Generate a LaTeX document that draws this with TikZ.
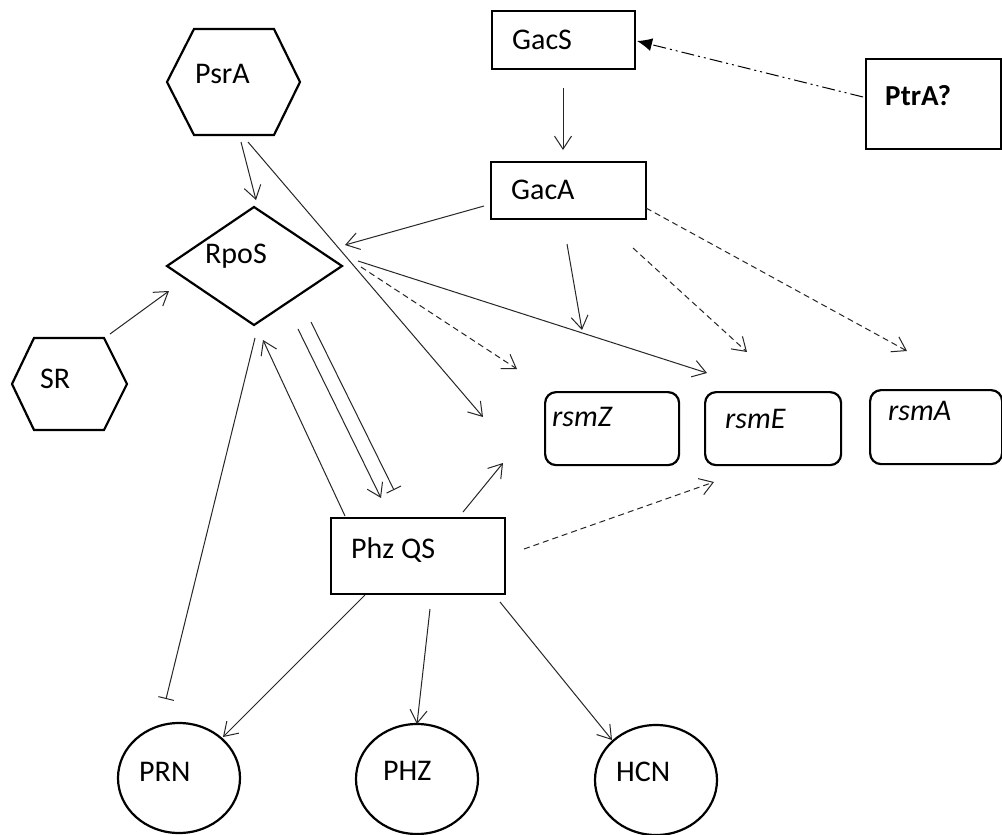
\documentclass[tikz,border=0pt]{standalone}
\usepackage{fontspec}
\setmainfont{Carlito}
\usetikzlibrary{arrows.meta,shapes.geometric}
\begin{document}
\begin{tikzpicture}[x=1pt,y=-1pt,
  shapeline/.style={draw=black,line width=2.2pt},
  boxnode/.style={shapeline,rectangle,inner sep=0pt,anchor=north west},
  rsmbox/.style={shapeline,rectangle,rounded corners=11pt,inner sep=0pt,anchor=north west},
  circnode/.style={shapeline,ellipse,inner sep=0pt,minimum width=122pt,minimum height=110pt},
  lbl/.style={inner sep=0pt,anchor=base west,font=\fontsize{30}{36}\selectfont},
  conn/.style={draw=black!85,line width=1pt,-{Straight Barb[length=13pt,width=17pt,line width=1pt]}},
  inhib/.style={draw=black!85,line width=1pt,-{Bar[width=16pt,line width=1pt]}},
  dashconn/.style={conn,dash pattern=on 6pt off 4pt},
  ddconn/.style={draw=black,line width=1pt,dash pattern=on 13pt off 4pt on 2pt off 4pt on 2pt off 4pt,-{Latex[length=15pt,width=13pt]}}
]
\useasboundingbox (0,0) rectangle (1002,835);
\fill[white] (0,0) rectangle (1002,835);

% boxes
\node[boxnode,minimum width=143pt,minimum height=58pt] (gacs) at (491,10) {};
\node[boxnode,minimum width=135pt,minimum height=90pt] (ptra) at (865,58) {};
\node[boxnode,minimum width=155pt,minimum height=57pt] (gaca) at (490,161) {};
\node[boxnode,minimum width=174pt,minimum height=76pt] (phzqs) at (330,517) {};
\node[rsmbox,minimum width=134pt,minimum height=73pt] (rsmz) at (544,391) {};
\node[rsmbox,minimum width=136pt,minimum height=73pt] (rsme) at (704,391) {};
\node[rsmbox,minimum width=132pt,minimum height=74pt] (rsma) at (869,389) {};

% hexagons and diamond
\draw[shapeline] (167,82) -- (194,29) -- (274,29) -- (300,82) -- (274,135) -- (194,135) -- cycle;
\coordinate (psra) at (233.5,82);
\draw[shapeline] (12,384) -- (34,338) -- (104,338) -- (127,384) -- (104,430) -- (34,430) -- cycle;
\coordinate (sr) at (69.5,384);
\draw[shapeline] (254,207) -- (342,266) -- (254,325) -- (167,266) -- cycle;
\coordinate (rpos) at (254,266);

% circles
\node[circnode] (prn) at (179,778) {};
\node[circnode] (phz) at (417,779) {};
\node[circnode] (hcn) at (656,780) {};

% labels
\node[lbl] (tgacs) at (512,49) {GacS};
\node[lbl,font=\fontsize{29}{36}\selectfont\bfseries] (tptra) at (885,105) {PtrA?};
\node[lbl] (tgaca) at (511,199) {GacA};
\node[lbl] (tpsra) at (195,83) {PsrA};
\node[lbl] (trpos) at (205,263) {RpoS};
\node[lbl] (tsr) at (40,388) {SR};
\node[lbl] (tphz) at (351,558) {Phz QS};
\node[lbl,font=\fontsize{30}{36}\selectfont\itshape] (trsmz) at (552,426) {rsmZ};
\node[lbl,font=\fontsize{30}{36}\selectfont\itshape] (trsme) at (725,428) {rsmE};
\node[lbl,font=\fontsize{30}{36}\selectfont\itshape] (trsma) at (888,420) {rsmA};
\node[lbl] (tprn) at (139,781) {PRN};
\node[lbl] (tphzc) at (383,780) {PHZ};
\node[lbl] (thcn) at (616,781) {HCN};

% connector end points
\coordinate (p1s) at (863,97);   \coordinate (p1e) at (637,41);
\coordinate (p2s) at (563,88);   \coordinate (p2e) at (563,150);
\coordinate (p3s) at (241,142);  \coordinate (p3e) at (256,200);
\coordinate (p4s) at (248,142);  \coordinate (p4e) at (483,417);
\coordinate (p5s) at (110,334);  \coordinate (p5e) at (169,291);
\coordinate (p6s) at (255,338);  \coordinate (p6e) at (166,699);
\coordinate (p7s) at (484,206);  \coordinate (p7e) at (345,245);
\coordinate (p8s) at (567,244);  \coordinate (p8e) at (582,330);
\coordinate (p9s) at (633,248);  \coordinate (p9e) at (747,352);
\coordinate (p10s) at (646,208); \coordinate (p10e) at (907,351);
\coordinate (p11s) at (358,261); \coordinate (p11e) at (707,373);
\coordinate (p12s) at (361,267); \coordinate (p12e) at (517,369);
\coordinate (p13s) at (345,516); \coordinate (p13e) at (263,340);
\coordinate (p14s) at (298,329); \coordinate (p14e) at (381,498);
\coordinate (p15s) at (311,322); \coordinate (p15e) at (394,490);
\coordinate (p16s) at (463,512); \coordinate (p16e) at (503,463);
\coordinate (p17s) at (524,549); \coordinate (p17e) at (714,482);
\coordinate (p18s) at (365,595); \coordinate (p18e) at (223,737);
\coordinate (p19s) at (430,609); \coordinate (p19e) at (417,724);
\coordinate (p20s) at (500,602); \coordinate (p20e) at (612,740);

% connectors
\draw[ddconn] (p1s) -- (p1e);
\draw[conn] (p2s) -- (p2e);
\draw[conn] (p3s) -- (p3e);
\draw[conn] (p4s) -- (p4e);
\draw[conn] (p5s) -- (p5e);
\draw[inhib] (p6s) -- (p6e);
\draw[conn] (p7s) -- (p7e);
\draw[conn] (p8s) -- (p8e);
\draw[dashconn] (p9s) -- (p9e);
\draw[dashconn] (p10s) -- (p10e);
\draw[conn] (p11s) -- (p11e);
\draw[dashconn] (p12s) -- (p12e);
\draw[conn] (p13s) -- (p13e);
\draw[conn] (p14s) -- (p14e);
\draw[inhib] (p15s) -- (p15e);
\draw[conn] (p16s) -- (p16e);
\draw[dashconn] (p17s) -- (p17e);
\draw[conn] (p18s) -- (p18e);
\draw[conn] (p19s) -- (p19e);
\draw[conn] (p20s) -- (p20e);
\end{tikzpicture}
\end{document}
